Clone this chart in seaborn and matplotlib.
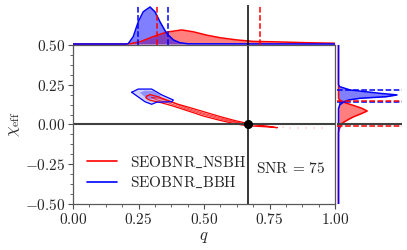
import matplotlib
matplotlib.use("Agg")
import matplotlib.pyplot as plt
from matplotlib.ticker import MultipleLocator, FuncFormatter
import seaborn as sns
import pandas as pd

# ---------------- data ----------------
# top marginal: q grid and densities (normalised to blue peak)
q_blue = [0.0, 0.20, 0.211, 0.230, 0.249, 0.268, 0.294, 0.313, 0.332, 0.357, 0.383, 0.408, 0.44, 1.0]
d_blue_q = [0.0, 0.0, 0.01, 0.20, 0.60, 0.87, 1.00, 0.87, 0.60, 0.29, 0.11, 0.035, 0.005, 0.0]
q_red = [0.0, 0.20, 0.22, 0.256, 0.306, 0.357, 0.415, 0.459, 0.510, 0.561, 0.625, 0.688, 0.763, 0.892, 1.0]
d_red_q = [0.0, 0.0, 0.01, 0.06, 0.20, 0.32, 0.38, 0.33, 0.24, 0.17, 0.11, 0.07, 0.06, 0.035, 0.02]

# right marginal: chi grid and densities
chi_blue = [-0.5, 0.10, 0.123, 0.140, 0.154, 0.165, 0.175, 0.186, 0.196, 0.217, 0.238, 0.25, 0.5]
d_blue_chi = [0.0, 0.0, 0.02, 0.08, 0.17, 0.37, 0.82, 1.00, 0.71, 0.20, 0.02, 0.0, 0.0]
chi_red = [-0.5, -0.05, -0.03, -0.014, 0.0075, 0.028, 0.049, 0.070, 0.085, 0.102, 0.123, 0.140, 0.154, 0.165, 0.5]
d_red_chi = [0.0, 0.0, 0.01, 0.03, 0.06, 0.15, 0.26, 0.40, 0.49, 0.40, 0.23, 0.085, 0.02, 0.0, 0.0]

# credible intervals
q_ci_blue = [0.248, 0.363]
q_ci_red = [0.320, 0.714]
chi_ci_blue = [0.141, 0.217]
chi_ci_red = [-0.012, 0.150]

# injected values
q_true = 0.667
chi_true = 0.0

# 2D contours (q, chi vertices)
blue_outer_q = [0.224, 0.249, 0.300, 0.339, 0.383, 0.377, 0.319, 0.300, 0.275, 0.224]
blue_outer_chi = [0.2025, 0.223, 0.223, 0.186, 0.154, 0.143, 0.140, 0.127, 0.143, 0.2025]
blue_inner_q = [0.255, 0.275, 0.305, 0.335, 0.330, 0.300, 0.280, 0.255]
blue_inner_chi = [0.200, 0.213, 0.210, 0.182, 0.168, 0.160, 0.165, 0.200]

red_outer_q = [0.281, 0.294, 0.330, 0.345, 0.400, 0.434, 0.500, 0.561, 0.620, 0.663, 0.700, 0.740, 0.780,
               0.740, 0.700, 0.663, 0.620, 0.561, 0.500, 0.434, 0.380, 0.330, 0.306, 0.290, 0.278, 0.281]
red_outer_chi = [0.178, 0.188, 0.172, 0.162, 0.128, 0.112, 0.080, 0.050, 0.024, 0.008, -0.002, -0.010, -0.020,
                 -0.015, -0.011, -0.008, 0.004, 0.026, 0.052, 0.088, 0.117, 0.140, 0.148, 0.155, 0.168, 0.178]
red_inner_q = [0.300, 0.330, 0.360, 0.434, 0.500, 0.561, 0.620, 0.660,
               0.620, 0.561, 0.500, 0.434, 0.360, 0.320, 0.300]
red_inner_chi = [0.170, 0.165, 0.150, 0.104, 0.070, 0.042, 0.017, 0.002,
                 0.012, 0.034, 0.062, 0.096, 0.138, 0.155, 0.170]
red_tail_q = [0.80, 0.83, 0.86, 0.89, 0.92, 0.95]
red_tail_chi = [-0.018, -0.020, -0.021, -0.022, -0.022, -0.023]

labels = [r'$\mathrm{SEOBNR\_NSBH}$', r'$\mathrm{SEOBNR\_BBH}$']
snr_text = r'$\mathrm{SNR}\,=\,75$'

RED = '#ff0000'
BLUE = '#0000ff'

# ---------------- style ----------------
sns.set_style("white")
plt.rcParams['mathtext.fontset'] = 'cm'
plt.rcParams['font.family'] = ['DejaVu Serif']
plt.rcParams['font.size'] = 11

fig = plt.figure(figsize=(4.07, 2.5), dpi=100)
ax = fig.add_axes([73 / 407, 46 / 250, 262 / 407, 159 / 250])
axt = fig.add_axes([73 / 407, 205 / 250, 262 / 407, 40 / 250])
axr = fig.add_axes([337 / 407, 46 / 250, 65 / 407, 159 / 250])

# ---------------- main panel ----------------
ax.fill(red_outer_q, red_outer_chi, color=RED, alpha=0.12, lw=0)
ax.plot(red_outer_q, red_outer_chi, color=RED, lw=0.9)
ax.fill(red_inner_q, red_inner_chi, color=RED, alpha=0.12, lw=0)
ax.plot(red_inner_q, red_inner_chi, color=RED, lw=0.6, alpha=0.8)
sns.scatterplot(x=red_tail_q, y=red_tail_chi, ax=ax, color=RED, alpha=0.12, s=4, marker='s', linewidth=0)

ax.fill(blue_outer_q, blue_outer_chi, color=BLUE, alpha=0.18, lw=0)
ax.plot(blue_outer_q, blue_outer_chi, color=BLUE, lw=0.9)
ax.fill(blue_inner_q, blue_inner_chi, color=BLUE, alpha=0.3, lw=0)

ax.axvline(q_true, color='black', lw=1.1)
ax.axhline(chi_true, color='0.25', lw=1.5)
ax.plot([q_true], [chi_true], 'o', color='black', ms=5.5, zorder=5)

ax.plot([], [], color=RED, lw=1.2, label=labels[0])
ax.plot([], [], color=BLUE, lw=1.2, label=labels[1])
ax.legend(loc='center left', bbox_to_anchor=(0.0, -0.302), bbox_transform=ax.transData,
          frameon=False, fontsize=11, handlelength=2.0, labelspacing=0.35)
ax.text(0.70, -0.307, snr_text, fontsize=11, va='baseline', ha='left')

ax.set_xlim(0, 1)
ax.set_ylim(-0.5, 0.5)
ax.xaxis.set_major_locator(MultipleLocator(0.25))
ax.yaxis.set_major_locator(MultipleLocator(0.25))
ax.xaxis.set_minor_locator(MultipleLocator(0.0625))
ax.yaxis.set_minor_locator(MultipleLocator(0.0625))
fmt = FuncFormatter(lambda v, p: r'$%.2f$' % v)
ax.xaxis.set_major_formatter(fmt)
ax.yaxis.set_major_formatter(fmt)
ax.tick_params(which='major', direction='out', length=3.5, width=0.8, color='0.3', labelsize=11,
               bottom=True, left=True, pad=2)
ax.tick_params(which='minor', direction='out', length=2, width=0.6, color='0.3', bottom=True, left=True)
for s in ax.spines.values():
    s.set_color('0.35')
    s.set_linewidth(0.9)
ax.set_xlabel(r'$q$', fontsize=12, labelpad=1)
ax.set_ylabel(r'$\chi_{\mathrm{eff}}$', fontsize=12, labelpad=2)

# ---------------- top marginal ----------------
top_red = pd.DataFrame({'q': q_red, 'd': d_red_q})
top_blue = pd.DataFrame({'q': q_blue, 'd': d_blue_q})
axt.fill_between(q_red, d_red_q, color=RED, alpha=0.5, lw=0)
sns.lineplot(data=top_red, x='q', y='d', ax=axt, color=RED, lw=1.1, sort=False)
axt.fill_between(q_blue, d_blue_q, color=BLUE, alpha=0.5, lw=0)
sns.lineplot(data=top_blue, x='q', y='d', ax=axt, color=BLUE, lw=1.1, sort=False)
for v in q_ci_blue:
    axt.axvline(v, color=BLUE, ls='--', lw=1.1)
for v in q_ci_red:
    axt.axvline(v, color=RED, ls='--', lw=1.1)
axt.axvline(q_true, color='black', lw=1.1)
axt.set_xlim(0, 1)
axt.set_ylim(-0.027, 1.054)
axt.axis('off')

# ---------------- right marginal ----------------
r_red = pd.DataFrame({'chi': chi_red, 'd': d_red_chi})
r_blue = pd.DataFrame({'chi': chi_blue, 'd': d_blue_chi})
axr.fill_betweenx(chi_red, d_red_chi, color=RED, alpha=0.5, lw=0)
sns.lineplot(data=r_red, x='d', y='chi', ax=axr, color=RED, lw=1.1, sort=False, orient='y')
axr.fill_betweenx(chi_blue, d_blue_chi, color=BLUE, alpha=0.5, lw=0)
sns.lineplot(data=r_blue, x='d', y='chi', ax=axr, color=BLUE, lw=1.1, sort=False, orient='y')
for v in chi_ci_blue:
    axr.axhline(v, color=BLUE, ls='--', lw=1.1)
for v in chi_ci_red:
    axr.axhline(v, color=RED, ls='--', lw=1.1)
axr.axhline(chi_true, color='0.25', lw=1.5)
axr.set_ylim(-0.5, 0.5)
axr.set_xlim(-0.0256, 1.085)
axr.axis('off')

fig.savefig('out.png', dpi=100)
